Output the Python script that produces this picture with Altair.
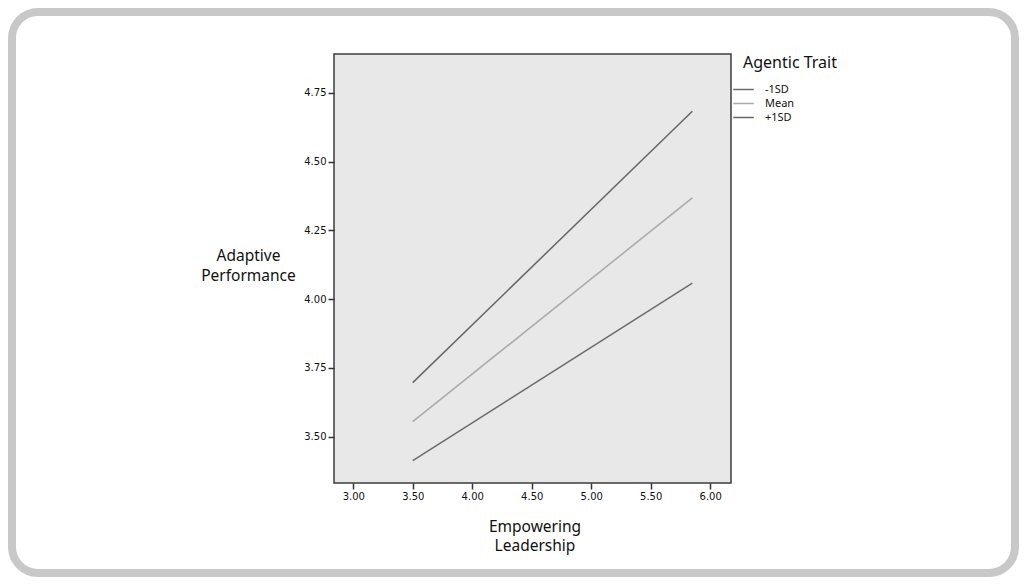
import altair as alt
import pandas as pd

# ---- data ----
agentic = ["-1SD", "Mean", "+1SD"]
x_start = [3.50, 3.50, 3.50]
x_end = [5.85, 5.85, 5.85]
y_start = [3.412, 3.554, 3.696]
y_end = [4.058, 4.368, 4.683]

x_ticks = [3.00, 3.50, 4.00, 4.50, 5.00, 5.50, 6.00]
y_ticks = [3.50, 3.75, 4.00, 4.25, 4.50, 4.75]

line_colors = ["#6b6b6b", "#a9a9a9", "#666666"]

rows = []
for g, xs, xe, ys, ye in zip(agentic, x_start, x_end, y_start, y_end):
    rows.append({"group": g, "x": xs, "y": ys})
    rows.append({"group": g, "x": xe, "y": ye})
df = pd.DataFrame(rows)

PAD_L, PAD_T, W, H = 326, 46, 397, 429
CANVAS_W, CANVAS_H = 1011, 569
PAD_R = CANVAS_W - PAD_L - W
PAD_B = CANVAS_H - PAD_T - H

lines = alt.Chart(df).mark_line(strokeWidth=1.5).encode(
    x=alt.X("x:Q",
            scale=alt.Scale(domain=[2.838, 6.175], nice=False, zero=False),
            axis=alt.Axis(values=x_ticks, format=".2f",
                          title=["Empowering", "Leadership"],
                          titleAngle=0, titleAlign="center",
                          titleBaseline="alphabetic",
                          titleX=200.5, titleY=48, titleLineHeight=19.5)),
    y=alt.Y("y:Q",
            scale=alt.Scale(domain=[3.331, 4.891], nice=False, zero=False),
            axis=alt.Axis(values=y_ticks, format=".2f",
                          title=["Adaptive", "Performance"],
                          titleAngle=0, titleAlign="center",
                          titleBaseline="alphabetic",
                          titleX=-86, titleY=206.7, titleLineHeight=20)),
    color=alt.Color("group:N",
                    scale=alt.Scale(domain=agentic, range=line_colors),
                    sort=agentic,
                    legend=alt.Legend(title="Agentic Trait",
                                      orient="none", legendX=409, legendY=1,
                                      padding=0, titlePadding=10,
                                      titleFontSize=16, titleFont="Noto Sans",
                                      titleFontWeight="normal", titleColor="#111",
                                      labelFont="Noto Sans", labelFontSize=11,
                                      labelColor="#111", labelOffset=13,
                                      symbolType="M-1.4,0H1.4", symbolSize=215,
                                      symbolOffset=-8,
                                      symbolStrokeWidth=1.5, rowPadding=0)),
    detail="group:N",
)

frame_df = pd.DataFrame({"k": [0]})
frame = alt.Chart(frame_df).mark_rect(
    fill="transparent", stroke="#c8c8c8", strokeWidth=8, cornerRadius=26
).encode(
    x=alt.value(-PAD_L + 4), x2=alt.value(CANVAS_W - PAD_L - 4),
    y=alt.value(-PAD_T + 4), y2=alt.value(CANVAS_H - PAD_T - 4),
)

chart = alt.layer(frame, lines).properties(
    width=W, height=H,
    autosize=alt.AutoSizeParams(type="none"),
    padding={"left": PAD_L, "top": PAD_T, "right": PAD_R, "bottom": PAD_B},
    background="white",
).configure_view(
    fill="#e8e8e8", stroke="#3c3c3c", strokeWidth=1.5
).configure_axis(
    grid=False, domain=False, tickSize=6, tickWidth=1.5, tickColor="#333",
    labelFont="DejaVu Sans", labelFontSize=10, labelColor="#111", labelPadding=2,
    titleFont="Noto Sans", titleFontSize=15.5, titleFontWeight="normal",
    titleColor="#111",
)

chart.save("out.html", embed_options={"renderer": "svg", "actions": False})
